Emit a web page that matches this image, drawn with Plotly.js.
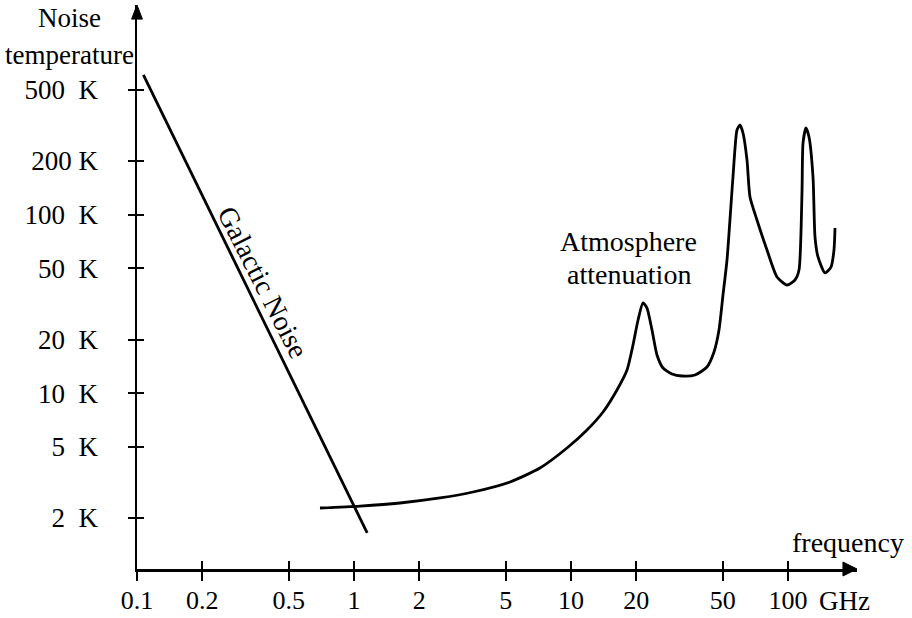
<!DOCTYPE html>
<html>
<head>
<meta charset="utf-8">
<script src="https://cdn.plot.ly/plotly-3.0.1.min.js"></script>
<style>html,body{margin:0;padding:0;background:#fff}#chart{width:912px;height:618px}</style>
</head>
<body>
<div id="chart"></div>
<script>
// ---- data ----
const xTickVals = [0.1, 0.2, 0.5, 1, 2, 5, 10, 20, 50, 100];
const xTickText = ['0.1', '0.2', '0.5', '1', '2', '5', '10', '20', '50', '100'];
const yTickVals = [2, 5, 10, 20, 50, 100, 200, 500];
const yTickText = ['2\u00a0\u00a0K', '5\u00a0\u00a0K', '10\u00a0\u00a0K', '20\u00a0\u00a0K', '50\u00a0\u00a0K', '100\u00a0\u00a0K', '200\u00a0K', '500\u00a0\u00a0K'];

const galacticFreq = [0.107, 1.15];
const galacticTemp = [607, 1.65];

const atmFreq = [0.697, 1.066, 1.629, 2.49, 3.535, 5.235, 7.195, 9.585, 11.85, 14.05, 16.29, 18.12, 19.31, 20.37, 21.47, 22.40, 23.62, 24.90, 26.55, 29.21, 32.47, 37.28, 42.33, 45.6, 48.08, 50.17, 52.35, 55.78, 58.21, 60.09, 62.03, 64.73, 66.82, 71.95, 80.03, 88.99, 98.95, 107.7, 112.4, 116.0, 117.3, 121.0, 125.0, 130.4, 133.2, 137.5, 148.1, 157.8, 162.9, 164.7];
const atmTemp = [2.275, 2.334, 2.427, 2.589, 2.797, 3.183, 3.813, 4.934, 6.223, 7.85, 10.43, 13.49, 18.63, 25.72, 32.03, 30.02, 22.61, 16.38, 13.85, 12.82, 12.49, 12.65, 14.03, 17.02, 22.61, 35.5, 55.77, 162.7, 298.4, 318.3, 287.0, 202.6, 125.7, 93.4, 63.4, 44.8, 40.4, 43.1, 49.0, 132.3, 252.2, 306.2, 272.6, 162.7, 75.0, 58.0, 47.2, 50.9, 63.4, 84.2];

const xRange = [-1, 2.318];
const yRange = [0.0153, 3.175];

const serif = 'Liberation Serif, Times New Roman, serif';

const traces = [
  {x: galacticFreq, y: galacticTemp, mode: 'lines', line: {color: '#000', width: 2.8}, hoverinfo: 'skip', showlegend: false},
  {x: atmFreq, y: atmTemp, mode: 'lines', line: {color: '#000', width: 2.8, shape: 'spline', smoothing: 0.6}, hoverinfo: 'skip', showlegend: false},
  {x: [], y: [], xaxis: 'x2', yaxis: 'y2', showlegend: false, hoverinfo: 'skip'}
];

const axBase = {
  type: 'log', showgrid: false, zeroline: false, showline: true, linecolor: '#000', linewidth: 2.5,
  tickmode: 'array', tickcolor: '#000', tickwidth: 2, fixedrange: true
};

const layout = {
  width: 912, height: 618,
  margin: {l: 137, r: 55, t: 5, b: 49},
  paper_bgcolor: '#fff', plot_bgcolor: '#fff',
  showlegend: false,
  xaxis: Object.assign({}, axBase, {
    range: xRange, tickvals: xTickVals, ticktext: xTickText,
    ticks: 'outside', ticklen: 9, ticklabelstandoff: -3,
    tickfont: {family: serif, size: 26, color: '#000'}
  }),
  yaxis: Object.assign({}, axBase, {
    range: yRange, tickvals: yTickVals, ticktext: yTickText,
    ticks: 'outside', ticklen: 7, ticklabelstandoff: 24,
    tickfont: {family: serif, size: 27, color: '#000'}
  }),
  xaxis2: Object.assign({}, axBase, {
    range: xRange, tickvals: xTickVals, overlaying: 'x', anchor: 'y2',
    ticks: 'inside', ticklen: 8, showticklabels: false
  }),
  yaxis2: Object.assign({}, axBase, {
    range: yRange, tickvals: yTickVals, overlaying: 'y', anchor: 'x2',
    ticks: 'inside', ticklen: 7, showticklabels: false
  }),
  shapes: [
    {type: 'path', xref: 'paper', yref: 'paper', path: 'M 0 1 L -0.0075 0.975 L 0.0075 0.975 Z', fillcolor: '#000', line: {color: '#000', width: 1}},
    {type: 'path', xref: 'paper', yref: 'paper', path: 'M 1 0 L 0.9805 0.0124 L 0.9805 -0.0124 Z', fillcolor: '#000', line: {color: '#000', width: 1}}
  ],
  annotations: [
    {text: 'Noise', xref: 'paper', yref: 'paper', x: -0.0931, y: 0.9770, xanchor: 'center', yanchor: 'middle', showarrow: false, font: {family: serif, size: 27, color: '#000'}},
    {text: 'temperature', xref: 'paper', yref: 'paper', x: -0.0931, y: 0.9113, xanchor: 'center', yanchor: 'middle', showarrow: false, font: {family: serif, size: 27, color: '#000'}},
    {text: 'frequency', xref: 'paper', yref: 'paper', x: 0.9875, y: 0.0470, xanchor: 'center', yanchor: 'middle', showarrow: false, font: {family: serif, size: 28, color: '#000'}},
    {text: 'GHz', xref: 'paper', yref: 'paper', x: 0.983, y: -0.0567, xanchor: 'center', yanchor: 'middle', showarrow: false, font: {family: serif, size: 27, color: '#000'}},
    {text: 'Atmosphere', xref: 'paper', yref: 'paper', x: 0.6833, y: 0.5800, xanchor: 'center', yanchor: 'middle', showarrow: false, font: {family: serif, size: 28, color: '#000'}},
    {text: 'attenuation', xref: 'paper', yref: 'paper', x: 0.6833, y: 0.5230, xanchor: 'center', yanchor: 'middle', showarrow: false, font: {family: serif, size: 28, color: '#000'}},
    {text: 'Galactic Noise', xref: 'paper', yref: 'paper', x: 0.1750, y: 0.5080, xanchor: 'center', yanchor: 'middle', textangle: 63, showarrow: false, font: {family: serif, size: 28, color: '#000'}}
  ]
};

Plotly.newPlot('chart', traces, layout, {staticPlot: true, displayModeBar: false});
</script>
</body>
</html>
